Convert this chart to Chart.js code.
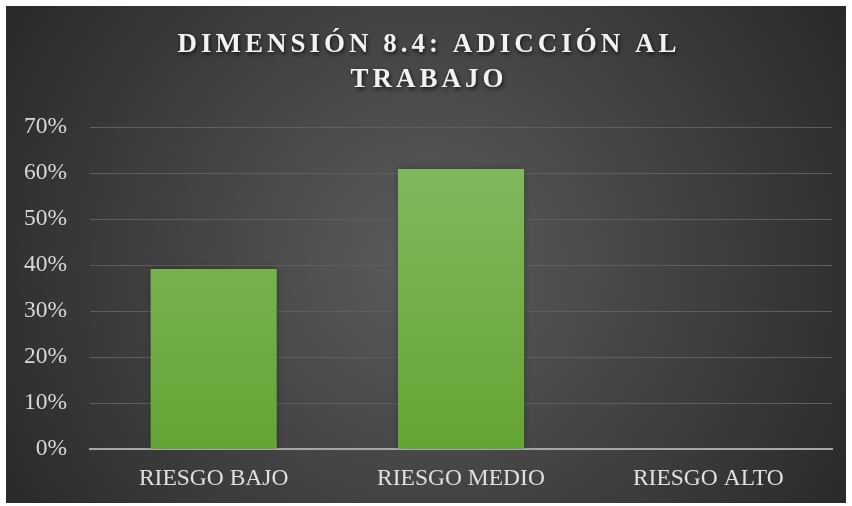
<!DOCTYPE html>
<html>
<head>
<meta charset="utf-8">
<script src="https://cdn.jsdelivr.net/npm/chart.js@4/dist/chart.umd.min.js"></script>
<style>
  html, body { margin: 0; padding: 0; background: #ffffff; }
  #wrap { width: 852px; height: 506px; }
</style>
</head>
<body>
<div id="wrap"><canvas id="myBarChart" width="852" height="506"></canvas></div>
<script>
    // data
    const categories = ['RIESGO BAJO', 'RIESGO MEDIO', 'RIESGO ALTO'];
    const percentValues = [39.13, 60.87, 0];
    const titleLines = ['DIMENSIÓN 8.4: ADICCIÓN AL', 'TRABAJO'];

    const serif = "'Liberation Serif', 'Times New Roman', serif";

    // background + title (letter spaced, with shadow)
    const backdrop = {
      id: 'backdrop',
      beforeDraw(chart) {
        const ctx = chart.ctx;
        ctx.save();
        const g = ctx.createRadialGradient(426, 260, 20, 426, 260, 520);
        g.addColorStop(0, '#5a5a5a');
        g.addColorStop(1, '#262626');
        ctx.fillStyle = g;
        ctx.fillRect(6, 6, 840, 497);
        ctx.restore();
      },
      afterDraw(chart) {
        const ctx = chart.ctx;
        ctx.save();
        ctx.font = 'bold 27px ' + serif;
        ctx.letterSpacing = '4px';
        ctx.fillStyle = '#f2f2f2';
        ctx.textAlign = 'center';
        ctx.textBaseline = 'middle';
        ctx.shadowColor = 'rgba(0,0,0,0.75)';
        ctx.shadowBlur = 4;
        ctx.shadowOffsetX = 1;
        ctx.shadowOffsetY = 2;
        titleLines.forEach((line, i) => ctx.fillText(line, 429, 45 + i * 35));
        ctx.restore();
      }
    };

    const barShadow = {
      id: 'barShadow',
      beforeDatasetsDraw(chart) {
        const ctx = chart.ctx;
        ctx.save();
        ctx.shadowColor = 'rgba(0,0,0,0.35)';
        ctx.shadowBlur = 7;
      },
      afterDatasetsDraw(chart) {
        chart.ctx.restore();
      }
    };

    const data = {
      labels: categories,
      datasets: [{
        data: percentValues,
        backgroundColor(c) {
          const area = c.chart.chartArea;
          if (!area) return '#70ad47';
          const g = c.chart.ctx.createLinearGradient(0, area.top, 0, area.bottom);
          g.addColorStop(0, '#84bb62');
          g.addColorStop(1, '#63a534');
          return g;
        },
        borderWidth: 0,
        barPercentage: 0.51,
        categoryPercentage: 1
      }]
    };

    // config
    const config = {
      type: 'bar',
      data,
      plugins: [backdrop, barShadow],
      options: {
        responsive: false,
        animation: false,
        layout: { padding: { left: 6, right: 20, top: 127, bottom: 0 } },
        plugins: {
          legend: { display: false },
          tooltip: { enabled: false }
        },
        scales: {
          x: {
            grid: { display: false, drawTicks: false },
            border: { display: true, color: '#a6a6a6', width: 2 },
            ticks: { color: '#e0e0e0', font: { family: serif, size: 23.5 }, padding: 16 },
            afterFit(s) { s.height = 57; }
          },
          y: {
            min: 0,
            max: 70,
            grid: { color: '#5e5e5e', lineWidth: 1, drawTicks: false },
            border: { display: false },
            ticks: {
              stepSize: 10,
              color: '#d9d9d9',
              font: { family: serif, size: 23.5 },
              padding: 23,
              callback: v => v + '%'
            },
            afterFit(s) { s.width = 84; }
          }
        }
      }
    };

    // render init block
    const myChart = new Chart(
      document.getElementById('myBarChart'),
      config
    );
</script>
</body>
</html>
